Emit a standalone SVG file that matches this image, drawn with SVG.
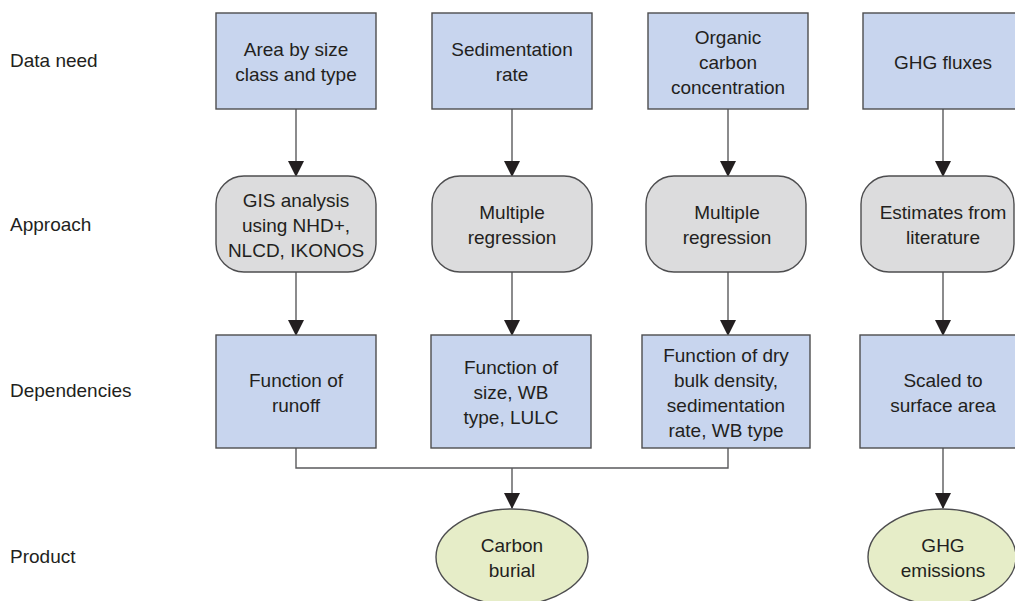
<svg xmlns="http://www.w3.org/2000/svg" width="1015" height="601" viewBox="0 0 1015 601">
<style>
text{font-family:"Liberation Sans",Arial,sans-serif;font-size:19px;fill:#231f20}
.c{text-anchor:middle}
.box{fill:#c8d5ee;stroke:#4d4d4f;stroke-width:1.4}
.rnd{fill:#dcdcdd;stroke:#4d4d4f;stroke-width:1.4}
.ell{fill:#e6edc8;stroke:#4d4d4f;stroke-width:1.4}
.ln{fill:none;stroke:#5a5a5c;stroke-width:1.4}
</style>
<defs>
<marker id="ah" markerUnits="userSpaceOnUse" markerWidth="16" markerHeight="16" viewBox="0 0 16 16" refX="8" refY="16" orient="auto-start-reverse">
<path d="M0,0 L16,0 L8,16 Z" fill="#231f20"/>
</marker>
</defs>
<g id="labels">
<text x="10" y="67">Data need</text>
<text x="10" y="231">Approach</text>
<text x="10" y="397">Dependencies</text>
<text x="10" y="563">Product</text>
</g>
<g id="connectors">
<line class="ln" x1="296" y1="109" x2="296" y2="175"/>
<line class="ln" x1="512" y1="109" x2="512" y2="175"/>
<line class="ln" x1="728" y1="109" x2="728" y2="175"/>
<line class="ln" x1="943" y1="109" x2="943" y2="175"/>
<line class="ln" x1="296" y1="272" x2="296" y2="334"/>
<line class="ln" x1="512" y1="272" x2="512" y2="334"/>
<line class="ln" x1="728" y1="272" x2="728" y2="334"/>
<line class="ln" x1="943" y1="272" x2="943" y2="334"/>
<path class="ln" d="M296,448 V468 H728 V448"/>
<line class="ln" x1="512" y1="468" x2="512" y2="508"/>
<line class="ln" x1="943" y1="448" x2="943" y2="508"/>
<g fill="#231f20">
<path d="M288,161 H304 L296,177 Z"/>
<path d="M504,161 H520 L512,177 Z"/>
<path d="M720,161 H736 L728,177 Z"/>
<path d="M935,161 H951 L943,177 Z"/>
<path d="M288,320 H304 L296,336 Z"/>
<path d="M504,320 H520 L512,336 Z"/>
<path d="M720,320 H736 L728,336 Z"/>
<path d="M935,320 H951 L943,336 Z"/>
<path d="M504,493 H520 L512,509 Z"/>
<path d="M935,493 H951 L943,509 Z"/>
</g>
</g>
<g id="n-area">
<rect class="box" x="216" y="13" width="160" height="96"/>
<text class="c" x="296" y="56">Area by size</text>
<text class="c" x="296" y="81">class and type</text>
</g>
<g id="n-sedrate">
<rect class="box" x="432" y="13" width="160" height="96"/>
<text class="c" x="512" y="56">Sedimentation</text>
<text class="c" x="512" y="81">rate</text>
</g>
<g id="n-occ">
<rect class="box" x="648" y="13" width="160" height="96"/>
<text class="c" x="728" y="43.5">Organic</text>
<text class="c" x="728" y="68.5">carbon</text>
<text class="c" x="728" y="93.5">concentration</text>
</g>
<g id="n-ghgflux">
<rect class="box" x="863" y="13" width="160" height="96"/>
<text class="c" x="943" y="68.5">GHG fluxes</text>
</g>
<g id="n-gis">
<rect class="rnd" x="216" y="176" width="160" height="96" rx="28" ry="28"/>
<text class="c" x="296" y="206.5">GIS analysis</text>
<text class="c" x="296" y="231.5">using NHD+,</text>
<text class="c" x="296" y="256.5">NLCD, IKONOS</text>
</g>
<g id="n-mr1">
<rect class="rnd" x="432" y="176" width="160" height="96" rx="28" ry="28"/>
<text class="c" x="512" y="219">Multiple</text>
<text class="c" x="512" y="244">regression</text>
</g>
<g id="n-mr2">
<rect class="rnd" x="646" y="176" width="160" height="96" rx="28" ry="28"/>
<text class="c" x="727" y="219">Multiple</text>
<text class="c" x="727" y="244">regression</text>
</g>
<g id="n-est">
<rect class="rnd" x="861" y="176" width="153" height="96" rx="28" ry="28"/>
<text class="c" x="943" y="219">Estimates from</text>
<text class="c" x="943" y="244">literature</text>
</g>
<g id="n-runoff">
<rect class="box" x="216" y="335" width="160" height="113"/>
<text class="c" x="296" y="386.5">Function of</text>
<text class="c" x="296" y="411.5">runoff</text>
</g>
<g id="n-size">
<rect class="box" x="431" y="335" width="160" height="113"/>
<text class="c" x="511" y="374">Function of</text>
<text class="c" x="511" y="399">size, WB</text>
<text class="c" x="511" y="424">type, LULC</text>
</g>
<g id="n-dry">
<rect class="box" x="642" y="335" width="168" height="113"/>
<text class="c" x="726" y="361.5">Function of dry</text>
<text class="c" x="726" y="386.5">bulk density,</text>
<text class="c" x="726" y="411.5">sedimentation</text>
<text class="c" x="726" y="436.5">rate, WB type</text>
</g>
<g id="n-scaled">
<rect class="box" x="860" y="335" width="160" height="113"/>
<text class="c" x="943" y="386.5">Scaled to</text>
<text class="c" x="943" y="411.5">surface area</text>
</g>
<g id="n-burial">
<ellipse class="ell" cx="512" cy="557" rx="76" ry="48"/>
<text class="c" x="512" y="552">Carbon</text>
<text class="c" x="512" y="577">burial</text>
</g>
<g id="n-emis">
<ellipse class="ell" cx="942" cy="557" rx="74" ry="48"/>
<text class="c" x="943" y="552">GHG</text>
<text class="c" x="943" y="577">emissions</text>
</g>
</svg>
